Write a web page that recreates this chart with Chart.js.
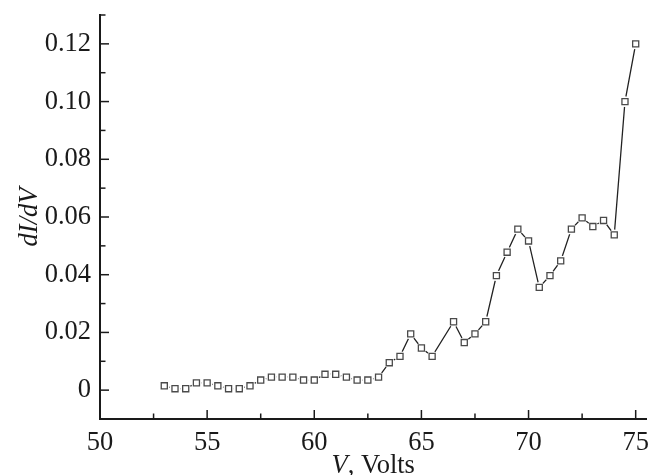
<!DOCTYPE html>
<html>
<head>
<meta charset="utf-8">
<script src="https://cdn.jsdelivr.net/npm/chart.js@4/dist/chart.umd.min.js"></script>
<style>
  html, body { margin: 0; padding: 0; background: #fff; }
  canvas { display: block; }
</style>
</head>
<body>
<canvas id="dIdVChart" width="652" height="475"></canvas>
<script>
// Differential conductance dI/dV against bias voltage
const voltage = [53, 53.5, 54, 54.5, 55, 55.5, 56, 56.5, 57, 57.5,
                 58, 58.5, 59, 59.5, 60, 60.5, 61, 61.5, 62, 62.5,
                 63, 63.5, 64, 64.5, 65, 65.5, 66.5, 67, 67.5, 68,
                 68.5, 69, 69.5, 70, 70.5, 71, 71.5, 72, 72.5, 73,
                 73.5, 74, 74.5, 75];
const dIdV = [0.0015, 0.0005, 0.0005, 0.0025, 0.0025, 0.0015, 0.0005, 0.0005, 0.0015, 0.0035,
              0.0045, 0.0045, 0.0045, 0.0035, 0.0035, 0.0055, 0.0055, 0.0045, 0.0035, 0.0035,
              0.0045, 0.0095, 0.0117, 0.0195, 0.0146, 0.0117, 0.0237, 0.0165, 0.0195, 0.0237,
              0.0397, 0.0478, 0.0558, 0.0517, 0.0356, 0.0397, 0.0448, 0.0558, 0.0597, 0.0567,
              0.0588, 0.0538, 0.1, 0.12];

const xTicks = [50, 55, 60, 65, 70, 75];
const xMinorTicks = [52.5, 57.5, 62.5, 67.5, 72.5];
const yTicks = [0, 0.02, 0.04, 0.06, 0.08, 0.10, 0.12];
const yMinorTicks = [0.01, 0.03, 0.05, 0.07, 0.09, 0.11, 0.13];

const serif = '"Liberation Serif", "Times New Roman", serif';
const fontSize = 26.5;
const ink = '#1a1a1a';

const points = voltage.map((v, i) => ({ x: v, y: dIdV[i] }));

// tick marks pointing into the plot area
const innerTicks = {
    id: 'innerTicks',
    afterDraw(chart) {
        const { ctx, chartArea, scales } = chart;
        ctx.save();
        ctx.strokeStyle = ink;
        ctx.lineWidth = 1.5;
        const mark = (x1, y1, x2, y2) => {
            ctx.beginPath();
            ctx.moveTo(x1, y1);
            ctx.lineTo(x2, y2);
            ctx.stroke();
        };
        xTicks.forEach(v => {
            const px = scales.x.getPixelForValue(v);
            mark(px, chartArea.bottom, px, chartArea.bottom - 9);
        });
        xMinorTicks.forEach(v => {
            const px = scales.x.getPixelForValue(v);
            mark(px, chartArea.bottom, px, chartArea.bottom - 5.5);
        });
        yTicks.forEach(v => {
            const py = scales.y.getPixelForValue(v);
            mark(chartArea.left, py, chartArea.left + 9, py);
        });
        yMinorTicks.forEach(v => {
            const py = scales.y.getPixelForValue(v);
            mark(chartArea.left, py, chartArea.left + 5.5, py);
        });
        ctx.restore();
    }
};

// x-axis title: italic V followed by upright units
const xTitle = {
    id: 'xTitle',
    afterDraw(chart) {
        const { ctx, chartArea } = chart;
        const italic = 'italic ' + fontSize + 'px ' + serif;
        const roman = fontSize + 'px ' + serif;
        ctx.save();
        ctx.fillStyle = ink;
        ctx.textBaseline = 'alphabetic';
        ctx.font = italic;
        const w1 = ctx.measureText('V').width;
        ctx.font = roman;
        const w2 = ctx.measureText(', Volts').width;
        const x0 = (chartArea.left + chartArea.right) / 2 - (w1 + w2) / 2;
        const y = chartArea.bottom + 54;
        ctx.font = italic;
        ctx.fillText('V', x0, y);
        ctx.font = roman;
        ctx.fillText(', Volts', x0 + w1, y);
        ctx.restore();
    }
};

new Chart(document.getElementById('dIdVChart').getContext('2d'), {
    type: 'scatter',
    data: {
        datasets: [
            {
                // open squares
                data: points,
                showLine: false,
                pointStyle: 'rect',
                pointRadius: 4.3,
                pointBackgroundColor: '#fff',
                pointBorderColor: '#4a4a4a',
                pointBorderWidth: 1.3,
                order: 1
            },
            {
                // white halo so the line stops short of each symbol
                data: points,
                showLine: false,
                pointStyle: 'circle',
                pointRadius: 5.4,
                pointBackgroundColor: '#fff',
                pointBorderWidth: 0,
                order: 2
            },
            {
                // connecting line
                data: points,
                showLine: true,
                borderColor: '#222',
                borderWidth: 1.3,
                pointRadius: 0,
                order: 3
            }
        ]
    },
    options: {
        responsive: false,
        animation: false,
        layout: {
            padding: { top: 15, right: 3.5, left: 0, bottom: 0 }
        },
        plugins: {
            legend: { display: false },
            tooltip: { enabled: false }
        },
        scales: {
            x: {
                type: 'linear',
                min: 50,
                max: 75.5,
                afterBuildTicks: axis => { axis.ticks = xTicks.map(v => ({ value: v })); },
                afterFit: scale => {
                    scale.height = 56;
                    scale.paddingLeft = 0;
                    scale.paddingRight = 0;
                },
                grid: { display: false, drawTicks: false },
                border: { display: true, color: ink, width: 2 },
                ticks: {
                    color: ink,
                    font: { family: serif, size: fontSize },
                    padding: 8,
                    maxRotation: 0,
                    autoSkip: false
                }
            },
            y: {
                type: 'linear',
                min: -0.01,
                max: 0.13,
                afterBuildTicks: axis => { axis.ticks = yTicks.map(v => ({ value: v })); },
                afterFit: scale => {
                    scale.width = 100;
                    scale.paddingTop = 0;
                    scale.paddingBottom = 0;
                },
                grid: { display: false, drawTicks: false },
                border: { display: true, color: ink, width: 2 },
                ticks: {
                    color: ink,
                    font: { family: serif, size: fontSize },
                    padding: 9,
                    callback: v => v === 0 ? '0' : v.toFixed(2)
                },
                title: {
                    display: true,
                    text: 'dI/dV',
                    color: ink,
                    font: { family: serif, size: fontSize, style: 'italic' },
                    padding: { top: 14, bottom: 0 }
                }
            }
        }
    },
    plugins: [innerTicks, xTitle]
});
</script>
</body>
</html>
